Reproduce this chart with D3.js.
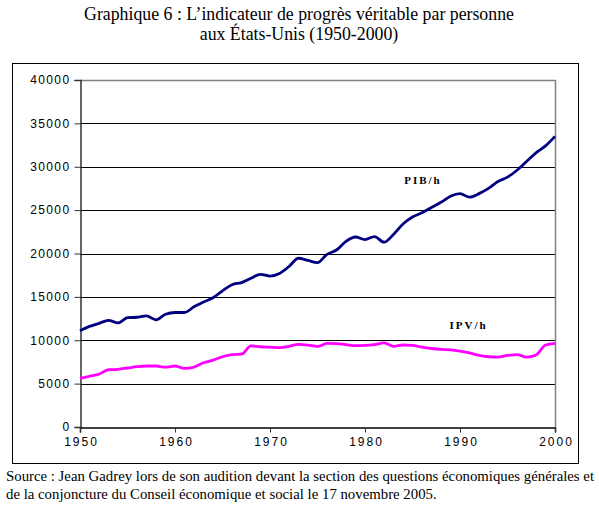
<!DOCTYPE html>
<html>
<head>
<meta charset="utf-8">
<script src="https://cdn.jsdelivr.net/npm/d3@7"></script>
<style>
  body { margin: 0; background: #fff; }
  svg { display: block; }
</style>
</head>
<body>
<div id="chart"></div>
<script>
// data, one value per year
const years = d3.range(1950, 2001);
const pibValues = [
  11100, 11600, 11950, 12300, 12000, 12600, 12650, 12800, 12350, 13000,
  13200, 13200, 13850, 14400, 14900, 15700, 16400, 16650, 17150, 17600,
  17400, 17700, 18500, 19450, 19200, 18950, 19900, 20400, 21400, 21900,
  21600, 21950, 21300, 22200, 23400, 24200, 24700, 25300, 25900, 26600,
  26900, 26500, 26900, 27500, 28300, 28800, 29600, 30600, 31600, 32400,
  33500
];
const ipvValues = [
  5600, 5850, 6100, 6600, 6650, 6800, 6950, 7030, 7030, 6900,
  7030, 6750, 6900, 7400, 7700, 8100, 8350, 8400, 9350, 9250,
  9200, 9150, 9300, 9530, 9450, 9280, 9650, 9620, 9500, 9380,
  9400, 9500, 9700, 9300, 9450, 9400, 9200, 9050, 8950, 8900,
  8750, 8550, 8250, 8100, 8050, 8250, 8350, 8050, 8300, 9450,
  9650
];
const yTicks = [0, 5000, 10000, 15000, 20000, 25000, 30000, 35000, 40000];
const xTicks = [1950, 1960, 1970, 1980, 1990, 2000];
const seriesNames = ["PIB/h", "IPV/h"];
const titleLines = [
  "Graphique 6 : L\u2019indicateur de progrès véritable par personne",
  "aux États-Unis (1950-2000)"
];
const sourceLines = [
  "Source : Jean Gadrey lors de son audition devant la section des questions économiques générales et",
  "de la conjoncture du Conseil économique et social le 17 novembre 2005."
];

const W = 599, H = 507;
const margin = { top: 80, right: 44, bottom: 80, left: 80 },
    width = W - margin.left - margin.right,
    height = H - margin.top - margin.bottom;

const svg = d3.select("#chart").append("svg")
    .attr("width", W)
    .attr("height", H);

// title
svg.append("g").selectAll("text")
    .data(titleLines)
    .enter().append("text")
    .attr("x", 299)
    .attr("y", function (d, i) { return 20 + i * 20; })
    .attr("text-anchor", "middle")
    .style("font-family", "'Liberation Serif', serif")
    .style("font-size", "17.8px")
    .text(function (d) { return d; });

// outer frame
svg.append("rect")
    .attr("x", 12.5).attr("y", 63.5)
    .attr("width", 566).attr("height", 400)
    .attr("fill", "none").attr("stroke", "#000").attr("stroke-width", 1);

const g = svg.append("g")
    .attr("transform", "translate(" + margin.left + "," + margin.top + ")");

const x = d3.scaleLinear().domain([1950, 2000]).range([0, width]);
const y = d3.scaleLinear().domain([0, 40000]).range([height, 0]);

// grid lines
g.append("g").selectAll("line")
    .data(yTicks.filter(function (d) { return d > 0 && d < 40000; }))
    .enter().append("line")
    .attr("x1", 0).attr("x2", width)
    .attr("y1", function (d) { return Math.round(y(d)) + 0.5; })
    .attr("y2", function (d) { return Math.round(y(d)) + 0.5; })
    .attr("stroke", "#000").attr("stroke-width", 1);

// plot area top / right border (grey)
g.append("path")
    .attr("d", "M0," + (Math.round(y(40000)) + 0.5) + "H" + (width + 0.5) + "V" + height)
    .attr("fill", "none").attr("stroke", "#808080").attr("stroke-width", 1.5);

// y axis
const yAxis = g.append("g")
    .attr("transform", "translate(0.5,0)")
    .call(d3.axisLeft(y).tickValues(yTicks).tickSize(6).tickPadding(4).tickFormat(d3.format("d")));
yAxis.select(".domain").attr("stroke", "#333").attr("stroke-width", 1.5);
yAxis.selectAll("line").attr("stroke", "#333");
yAxis.selectAll("text")
    .style("font-family", "'Liberation Sans', Arial, sans-serif")
    .style("font-size", "12px")
    .style("letter-spacing", "1.4px")
    .attr("fill", "#000");

// x axis
const xAxis = g.append("g")
    .attr("transform", "translate(0," + (height + 0.5) + ")")
    .call(d3.axisBottom(x).tickValues(xTicks).tickSize(5).tickPadding(5).tickFormat(d3.format("d")));
xAxis.select(".domain").attr("stroke", "#000").attr("stroke-width", 1.5);
xAxis.selectAll("line").attr("stroke", "#333");
xAxis.selectAll("text")
    .style("font-family", "'Liberation Sans', Arial, sans-serif")
    .style("font-size", "12px")
    .style("letter-spacing", "2px")
    .attr("dx", "1px")
    .attr("fill", "#000");

// lines
const line = d3.line()
    .curve(d3.curveMonotoneX)
    .x(function (d) { return x(d[0]); })
    .y(function (d) { return y(d[1]); });

const pibData = years.map(function (yr, i) { return [yr, pibValues[i]]; });
const ipvData = years.map(function (yr, i) { return [yr, ipvValues[i]]; });

g.append("path")
    .datum(ipvData)
    .attr("d", line)
    .attr("fill", "none")
    .attr("stroke", "#ff00ff")
    .attr("stroke-width", 2.8)
    .attr("stroke-linejoin", "round");

g.append("path")
    .datum(pibData)
    .attr("d", line)
    .attr("fill", "none")
    .attr("stroke", "#000080")
    .attr("stroke-width", 2.8)
    .attr("stroke-linejoin", "round");

// series labels
const labelPos = [[1986.1, 28000], [1990.9, 11300]];
g.append("g").selectAll("text")
    .data(seriesNames)
    .enter().append("text")
    .attr("x", function (d, i) { return x(labelPos[i][0]); })
    .attr("y", function (d, i) { return y(labelPos[i][1]); })
    .attr("text-anchor", "middle")
    .style("font-family", "'Liberation Serif', serif")
    .style("font-weight", "bold")
    .style("font-size", "11px")
    .style("letter-spacing", "2px")
    .text(function (d) { return d; });

// source
svg.append("g").selectAll("text")
    .data(sourceLines)
    .enter().append("text")
    .attr("x", 6)
    .attr("y", function (d, i) { return 481 + i * 17.5; })
    .style("font-family", "'Liberation Serif', serif")
    .style("font-size", "14.8px")
    .text(function (d) { return d; });
</script>
</body>
</html>
